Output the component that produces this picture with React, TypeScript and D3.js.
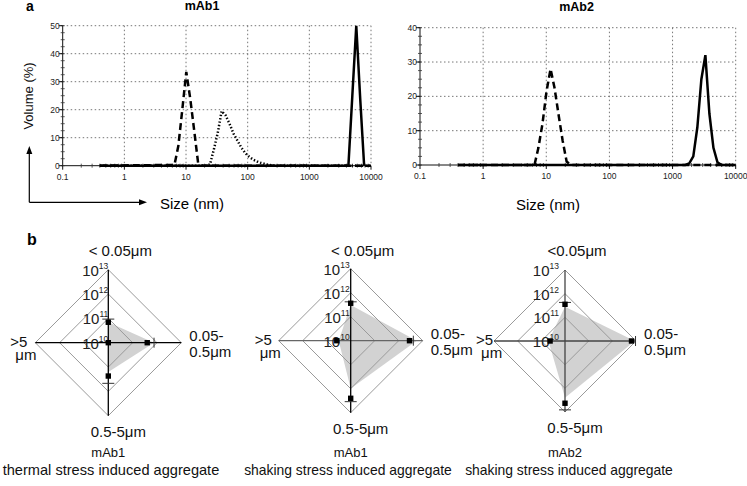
import React from "react";
import * as d3 from "d3";

// ---------- Panel a: DLS size distributions ----------
const sizeTicks = [0.1, 1, 10, 100, 1000, 10000];
const sizeTickLabels = ["0.1", "1", "10", "100", "1000", "10000"];
const mAb1VolTicks = [0, 10, 20, 30, 40, 50];
const mAb2VolTicks = [0, 10, 20, 30, 40];

// mAb1
const mAb1DashedSize = [0.4, 6.5, 7.5, 8.7, 10.1, 11.7, 13.5, 15.7, 18.2, 10000];
const mAb1DashedVol = [0, 0.3, 7, 20, 33.5, 24, 13, 1, 0, 0];
const mAb1DottedSize = [0.4, 21.1, 24.5, 28.2, 32.7, 37.8, 43.8, 50.7, 58.8, 68.1, 78.8, 91.3, 106, 122, 142, 164, 190, 220, 255, 295, 10000];
const mAb1DottedVol = [0, 0, 0.5, 5.7, 11.7, 19.5, 18, 15, 11.5, 9, 6.5, 4.5, 3.2, 2.2, 1.5, 1.0, 0.6, 0.3, 0.1, 0, 0];
const mAb1SolidSize = [0.4, 4300, 4980, 5770, 6680, 7740];
const mAb1SolidVol = [0, 0, 25, 50, 24, 0];

// mAb2
const mAb2DashedSize = [0.4, 6.5, 7.5, 8.7, 10.1, 11.7, 13.5, 15.7, 18.2, 21.0, 24.4, 10000];
const mAb2DashedVol = [0, 0, 5, 12, 21.5, 28, 22.5, 14.5, 7, 1, 0, 0];
const mAb2SolidSize = [0.4, 1590, 1840, 2130, 2470, 2860, 3310, 3830, 4440, 5140, 5950, 10000];
const mAb2SolidVol = [0, 0, 0.5, 2.5, 11, 25, 32, 15, 5, 0.8, 0, 0];

// ---------- Panel b: particle count radar charts (log10 counts) ----------
// axis order: <0.05µm (top), 0.05-0.5µm (right), 0.5-5µm (bottom), >5µm (left)
const radarLevels = [10, 11, 12, 13];
const radarLevelExp = ["10", "11", "12", "13"];
const radarTopLabels = ["< 0.05μm", "< 0.05μm", "<0.05μm"];
const radarRightLabels = ["0.05-", "0.5μm"];
const radarBottomLabel = "0.5-5μm";
const radarLeftLabels = [">5", "μm"];
const captionSample = ["mAb1", "mAb1", "mAb2"];
const captionStress = [
  "thermal stress induced aggregate",
  "shaking stress induced aggregate",
  "shaking stress induced aggregate",
];

const thermalMab1Mean = [10.84, 11.6, 11.37, 10.0];
const thermalMab1Upper = [10.97, 11.88, 11.67, 10.0];
const thermalMab1Area = [10.84, 11.88, 11.2, 10.0];
const shakingMab1Mean = [11.56, 12.45, 12.4, 10.58];
const shakingMab1Upper = [11.62, 12.61, 12.54, 10.58];
const shakingMab1Area = [11.49, 12.75, 11.99, 10.5];
const shakingMab2Mean = [11.55, 12.81, 12.63, 10.63];
const shakingMab2Upper = [11.63, 12.98, 12.91, 10.63];
const shakingMab2Area = [11.45, 12.95, 12.4, 10.7];

const FONT = "'Liberation Sans', Arial, Helvetica, sans-serif";

type Series = { size: number[]; vol: number[]; dash?: string };

function DlsChart(props: {
  left: number; right: number; top: number; bottom: number;
  yMax: number; yTicks: number[]; series: Series[];
  title: string; titleX: number; titleY: number; xLabelX: number; xLabelY: number;
}) {
  const { left, right, top, bottom, yMax, yTicks, series } = props;
  const x = d3.scaleLog().domain([0.1, 10000]).range([left, right]);
  const y = d3.scaleLinear().domain([0, yMax]).range([bottom, top]);
  const line = d3.line<[number, number]>().x((d) => x(d[0])).y((d) => y(d[1]));
  const minorY = d3.range(0, yMax + 0.01, 2.5);
  const minorX: number[] = [];
  [0.1, 1, 10, 100, 1000].forEach((dec) => {
    for (let k = 2; k <= 9; k++) minorX.push(dec * k);
  });
  return (
    <g>
      {sizeTicks.slice(1).map((t) => (
        <line key={"gx" + t} x1={x(t)} x2={x(t)} y1={top} y2={bottom}
          stroke="#777" strokeWidth={1} strokeDasharray="1.5,2.5" />
      ))}
      {yTicks.slice(1).map((t) => (
        <line key={"gy" + t} x1={left} x2={right} y1={y(t)} y2={y(t)}
          stroke="#777" strokeWidth={1} strokeDasharray="1.5,2.5" />
      ))}
      <line x1={left} x2={left} y1={top} y2={bottom} stroke="#111" strokeWidth={1} />
      <line x1={left} x2={right} y1={bottom} y2={bottom} stroke="#111" strokeWidth={1} />
      {minorY.map((t) => (
        <line key={"my" + t} x1={left - 2} x2={left + 2} y1={y(t)} y2={y(t)} stroke="#333" strokeWidth={0.8} />
      ))}
      {yTicks.map((t) => (
        <g key={"ty" + t}>
          <line x1={left - 4} x2={left} y1={y(t)} y2={y(t)} stroke="#111" strokeWidth={1} />
          <text x={left - 3} y={y(t) + 3} fontSize={8.5} textAnchor="end" fill="#222" fontFamily={FONT}>{t}</text>
        </g>
      ))}
      {minorX.map((t, i) => (
        <line key={"mx" + i} x1={x(t)} x2={x(t)} y1={bottom - 2} y2={bottom + 2} stroke="#333" strokeWidth={0.8} />
      ))}
      {sizeTicks.map((t, i) => (
        <g key={"tx" + t}>
          <line x1={x(t)} x2={x(t)} y1={bottom} y2={bottom + 4} stroke="#111" strokeWidth={1} />
          <text x={x(t)} y={bottom + 14} fontSize={8.5} textAnchor="middle" fill="#222" fontFamily={FONT}>{sizeTickLabels[i]}</text>
        </g>
      ))}
      {series.map((s, i) => (
        <path key={"s" + i}
          d={line(s.size.map((v, j) => [v, s.vol[j]] as [number, number])) || ""}
          fill="none" stroke="#000" strokeWidth={2.5} strokeDasharray={s.dash}
          strokeLinejoin="miter" />
      ))}
      <text x={props.titleX} y={props.titleY} fontSize={12.5} fontWeight="bold" textAnchor="middle" fontFamily={FONT}>{props.title}</text>
      <text x={props.xLabelX} y={props.xLabelY} fontSize={15} textAnchor="middle" fontFamily={FONT}>Size (nm)</text>
    </g>
  );
}

function Radar(props: {
  idx: number; cx: number; cy: number; R: number;
  mean: number[]; upper: number[]; area: number[];
  hColor: string; vColor: string; levelDx: number; leftDx: number;
  capX: number; capSize: number;
}) {
  const { idx, cx, cy, R, mean, upper, area } = props;
  const r = d3.scaleLinear().domain([10, 13]).range([0, R]);
  const dirs: [number, number][] = [[0, -1], [1, 0], [0, 1], [-1, 0]];
  const pt = (v: number, k: number): [number, number] => [cx + dirs[k][0] * r(v), cy + dirs[k][1] * r(v)];
  const diamond = (v: number) => dirs.map((_, k) => pt(v, k).join(",")).join(" ");
  const areaPts = area.map((v, k) => pt(v, k).join(",")).join(" ");
  return (
    <g fontFamily={FONT}>
      <polygon points={areaPts} fill="#d2d2d2" stroke="none" />
      {radarLevels.slice(1).map((lv) => (
        <polygon key={lv} points={diamond(lv)} fill="none" stroke="#9a9a9a" strokeWidth={1} />
      ))}
      <line x1={cx - R} x2={cx + R} y1={cy} y2={cy} stroke={props.hColor} strokeWidth={1.3} />
      <line x1={cx} x2={cx} y1={cy - R} y2={cy + R} stroke={props.vColor} strokeWidth={1.3} />
      {radarLevels.map((lv, i) => (
        <text key={"l" + lv} x={cx + props.levelDx} y={cy - r(lv) + 6} textAnchor="end" fill="#222">
          <tspan fontSize={15}>10</tspan>
          <tspan fontSize={8.5} dy={-7}>{radarLevelExp[i]}</tspan>
        </text>
      ))}
      {upper.map((u, k) => {
        if (u - mean[k] < 0.02) return null;
        const [px, py] = pt(u, k);
        const vertical = k === 0 || k === 2;
        return vertical ? (
          <line key={"c" + k} x1={px - 6} x2={px + 6} y1={py} y2={py} stroke="#333" strokeWidth={1} />
        ) : (
          <line key={"c" + k} x1={px} x2={px} y1={py - 5} y2={py + 5} stroke="#333" strokeWidth={1} />
        );
      })}
      {mean.map((m, k) => {
        const [px, py] = pt(m, k);
        return <rect key={"m" + k} x={px - 2.7} y={py - 2.7} width={5.4} height={5.4} fill="#000" />;
      })}
      <text x={cx + 12} y={256} fontSize={15} textAnchor="middle" fill="#111">{radarTopLabels[idx]}</text>
      <text x={cx + R + 8} y={cy - 2} fontSize={15} fill="#111">{radarRightLabels[0]}</text>
      <text x={cx + R + 8} y={cy + 14} fontSize={15} fill="#111">{radarRightLabels[1]}</text>
      <text x={cx + 10} y={cy + R + 21} fontSize={15} textAnchor="middle" fill="#111">{radarBottomLabel}</text>
      <text x={cx - R + props.leftDx} y={cy + 4} fontSize={15} fill="#111">{radarLeftLabels[0]}</text>
      <text x={cx - R + props.leftDx + 5} y={cy + 17} fontSize={15} fill="#111">{radarLeftLabels[1]}</text>
      <text x={cx} y={457} fontSize={13} textAnchor="middle" fill="#111">{captionSample[idx]}</text>
      <text x={props.capX} y={475} fontSize={props.capSize} textAnchor="middle" fill="#111">{captionStress[idx]}</text>
    </g>
  );
}

export default function App() {
  return (
    <svg width={747} height={486} style={{ position: "absolute", left: 0, top: 0, background: "#fff" }}
      fontFamily={FONT}>
      <rect x={0} y={0} width={747} height={486} fill="#fff" />
      <text x={26} y={11} fontSize={14} fontWeight="bold">a</text>
      <text x={27} y={245} fontSize={16} fontWeight="bold">b</text>

      <DlsChart left={62.7} right={371} top={25.7} bottom={165.7} yMax={50} yTicks={mAb1VolTicks}
        series={[
          { size: mAb1DottedSize, vol: mAb1DottedVol, dash: "1.4,2" },
          { size: mAb1DashedSize, vol: mAb1DashedVol, dash: "7,4" },
          { size: mAb1SolidSize, vol: mAb1SolidVol },
        ]}
        title="mAb1" titleX={202} titleY={9.5} xLabelX={192} xLabelY={209} />
      <DlsChart left={420} right={735.7} top={27.7} bottom={165} yMax={40} yTicks={mAb2VolTicks}
        series={[
          { size: mAb2DashedSize, vol: mAb2DashedVol, dash: "7,4" },
          { size: mAb2SolidSize, vol: mAb2SolidVol },
        ]}
        title="mAb2" titleX={576.5} titleY={11} xLabelX={548} xLabelY={210} />

      <text transform="translate(33,96) rotate(-90)" fontSize={13} textAnchor="middle" fill="#111">Volume (%)</text>
      <line x1={29.3} x2={29.3} y1={202.3} y2={153} stroke="#000" strokeWidth={1.2} />
      <polygon points="29.3,146 26.3,154 32.3,154" fill="#000" />
      <line x1={29.3} x2={140} y1={202.3} y2={202.3} stroke="#000" strokeWidth={1.2} />
      <polygon points="147,202.3 139,199.3 139,205.3" fill="#000" />

      <Radar idx={0} cx={108.3} cy={342.7} R={73} mean={thermalMab1Mean} upper={thermalMab1Upper} area={thermalMab1Area}
        hColor="#000" vColor="#000" levelDx={0} leftDx={-25} capX={111} capSize={14.6} />
      <Radar idx={1} cx={350.7} cy={340.7} R={72} mean={shakingMab1Mean} upper={shakingMab1Upper} area={shakingMab1Area}
        hColor="#666" vColor="#000" levelDx={-1} leftDx={-24} capX={348} capSize={13.9} />
      <Radar idx={2} cx={565} cy={341} R={71} mean={shakingMab2Mean} upper={shakingMab2Upper} area={shakingMab2Area}
        hColor="#444" vColor="#444" levelDx={-6} leftDx={-18} capX={569} capSize={13.9} />
    </svg>
  );
}
